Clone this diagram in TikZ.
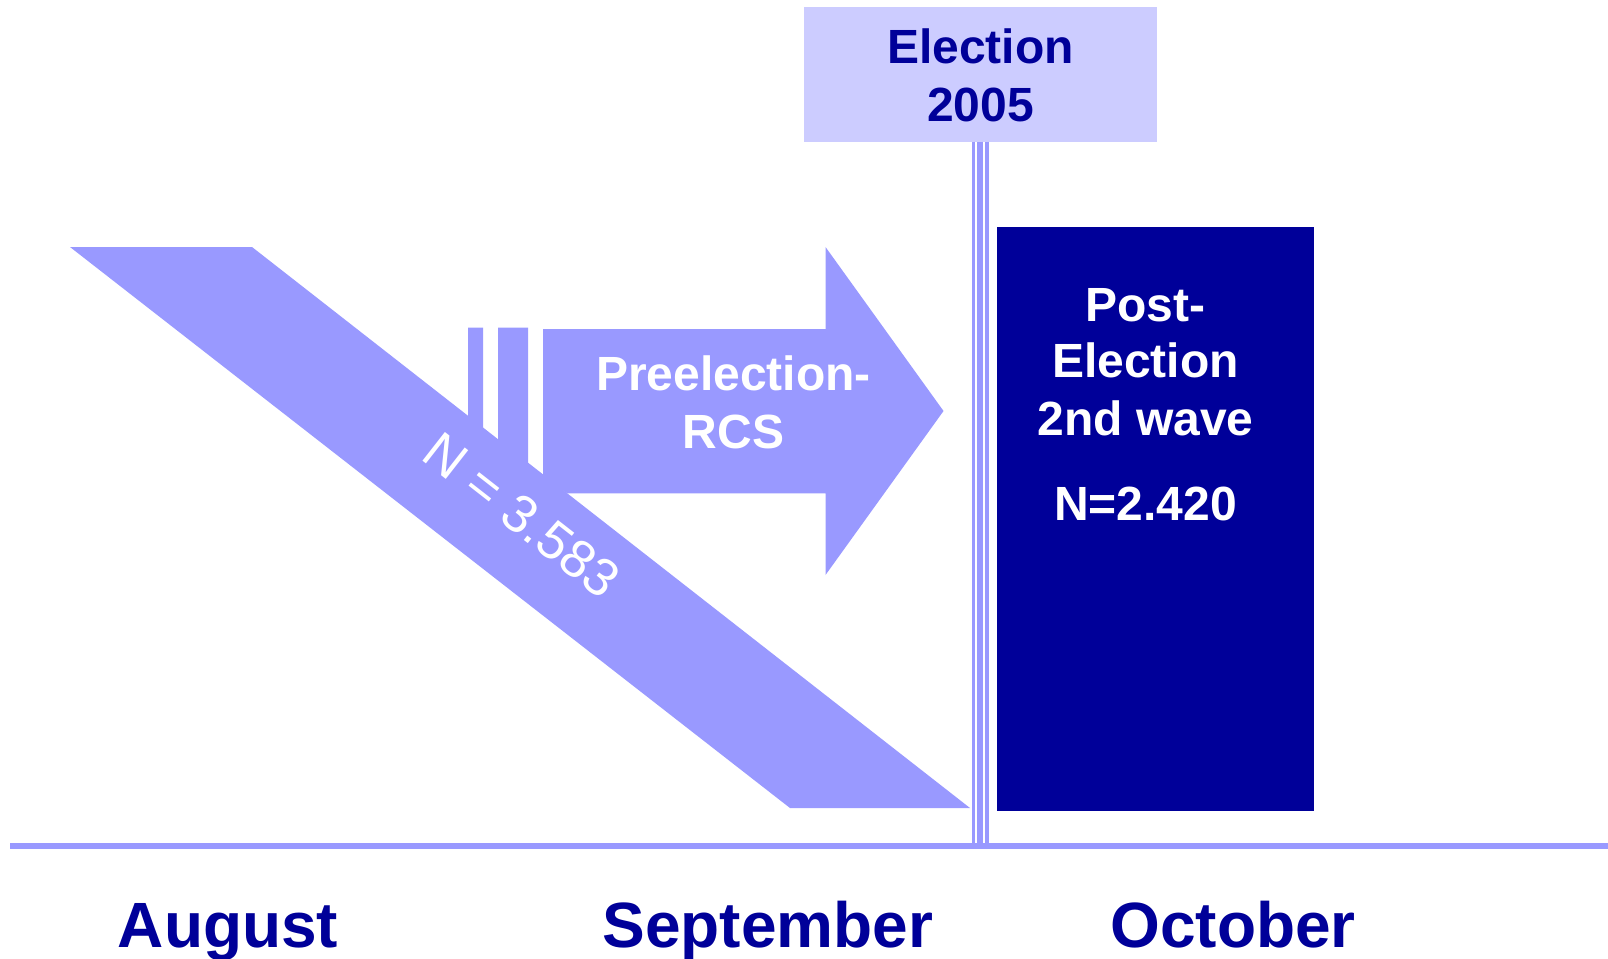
\documentclass[tikz,border=0pt]{standalone}
\usepackage{fontspec}
\setmainfont{Liberation Sans}
\definecolor{navy}{HTML}{000099}
\definecolor{lav}{HTML}{9999FF}
\definecolor{pale}{HTML}{CCCCFF}
\begin{document}
\begin{tikzpicture}[x=1pt,y=-1pt,
  boldtext/.style={inner sep=0pt, anchor=base, font=\bfseries\fontsize{48}{58}\selectfont},
  monthtext/.style={inner sep=0pt, anchor=base, text=navy, font=\bfseries\fontsize{64}{76}\selectfont},
  boxshape/.style={rectangle, inner sep=0pt, anchor=north west, draw=none}]
\useasboundingbox (0,0) rectangle (1608,958);
\fill[white] (0,0) rectangle (1608,958);
% diagonal band (pre-election sample)
\fill[lav] (70,247) -- (252,247) -- (970,808) -- (790,808) -- cycle;
% bars
\fill[lav] (468,327.7) -- (483,327.7) -- (483,430) -- (468,418.5) -- cycle;
\fill[lav] (498,327.7) -- (528,327.7) -- (528,465) -- (498,442) -- cycle;
% arrow
\fill[lav] (543,329) -- (825.5,329) -- (825.5,247) -- (943.5,411) -- (825.5,575)
  -- (825.5,493.3) -- (567.2,493.3) -- (543,477) -- cycle;
% election box
\node[boxshape, fill=pale, minimum width=353pt, minimum height=135pt] (electionbox) at (804,6.7) {};
\node[boldtext, text=navy] (elecA) at (980.5,63.3) {Election};
\node[boldtext, text=navy] (elecB) at (980.5,121.7) {2005};
% timeline
\coordinate (tlstart) at (10,845.7);
\coordinate (tlend) at (1608,845.7);
\draw[lav, line width=6pt] (tlstart) -- (tlend);
% triple vertical line
\coordinate (vtop) at (980.3,141.7);
\coordinate (vbot) at (980.3,845.7);
\draw[lav, line width=2.7pt] ([xshift=-7pt]vtop) -- ([xshift=-7pt]vbot);
\draw[lav, line width=6pt] (vtop) -- (vbot);
\draw[lav, line width=3.2pt] ([xshift=6.7pt]vtop) -- ([xshift=6.7pt]vbot);
% post-election box
\node[boxshape, fill=navy, minimum width=316.7pt, minimum height=583.8pt] (postbox) at (997,226.7) {};
\node[boldtext, text=white] (postA) at (1145.5,321) {Post-};
\node[boldtext, text=white] (postB) at (1145.5,377.3) {Election};
\node[boldtext, text=white] (postC) at (1145.5,435) {2nd wave};
\node[boldtext, text=white] (postD) at (1145.5,520.7) {N=2.420};
% preelection label
\node[boldtext, text=white] (preA) at (733.5,390.7) {Preelection-};
\node[boldtext, text=white] (preB) at (733.5,448.3) {RCS};
% rotated sample size
\node[inner sep=0pt, anchor=base west, rotate=-38, text=white,
  font=\fontsize{53}{63}\selectfont] (ncount) at (419.5,458.5) {N = 3.583};
% months
\node[monthtext] (aug) at (228,947.3) {August};
\node[monthtext] (sep) at (768,947.3) {September};
\node[monthtext] (oct) at (1233,947.3) {October};
\end{tikzpicture}
\end{document}
